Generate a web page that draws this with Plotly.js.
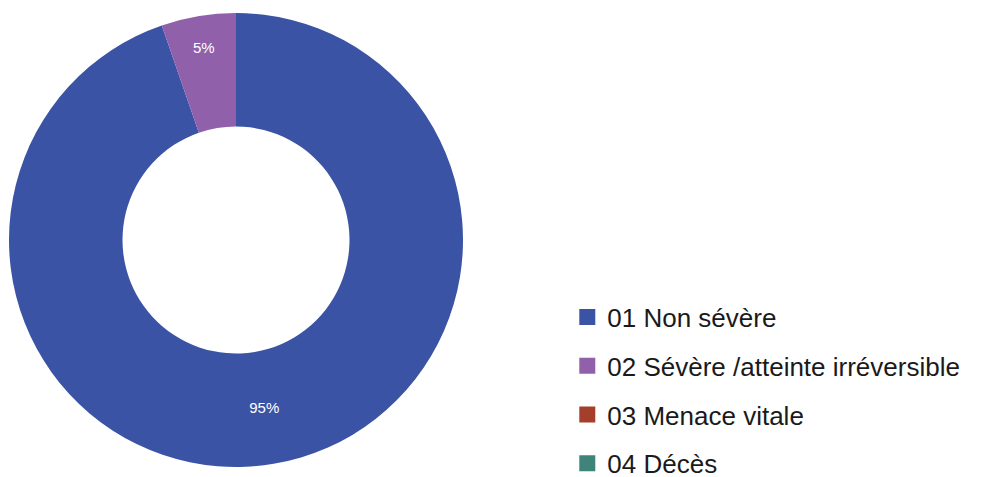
<!DOCTYPE html>
<html><head><meta charset="utf-8">
<script src="https://cdn.plot.ly/plotly-3.0.1.min.js"></script>
<style>html,body{margin:0;padding:0;background:#fff}</style>
</head><body>
<div id="chart" style="width:997px;height:477px"></div>
<script>
const categories = ["01 Non sévère", "02 Sévère /atteinte irréversible", "03 Menace vitale", "04 Décès"];
const shares = [94.7, 5.3, 0, 0];
const colors = ["#3A53A4", "#9160AA", "#A33F2B", "#3F8478"];

const traces = [{
  type: "pie",
  labels: categories,
  values: shares,
  hole: 0.5,
  sort: false,
  direction: "clockwise",
  rotation: 0,
  marker: {colors: colors, line: {width: 0}},
  texttemplate: "%{percent:.0%}",
  textposition: "inside",
  insidetextorientation: "horizontal",
  textfont: {family: "Liberation Sans, Arial, sans-serif", size: 15, color: "#ffffff"},
  domain: {x: [9/997, 463/997], y: [10/477, 464/477]},
  showlegend: false,
  hoverinfo: "label+percent"
}];
categories.forEach((c, i) => {
  traces.push({
    type: "scatter", mode: "markers", x: [null], y: [null],
    name: c, legendgroup: "g" + i,
    marker: {symbol: "square", size: 18, color: colors[i]},
    showlegend: true, hoverinfo: "skip"
  });
});

const layout = {
  width: 997, height: 477,
  margin: {l: 0, r: 0, t: 0, b: 0, autoexpand: false},
  paper_bgcolor: "#ffffff", plot_bgcolor: "#ffffff",
  xaxis: {visible: false}, yaxis: {visible: false},
  showlegend: true,
  legend: {
    x: 0.569, y: 0.3847, xanchor: "left", yanchor: "top",
    font: {family: "Liberation Sans, Arial, sans-serif", size: 26, color: "#1a1a1a"},
    tracegroupgap: 12, itemclick: false, bgcolor: "rgba(0,0,0,0)"
  }
};
Plotly.newPlot("chart", traces, layout, {displayModeBar: false, staticPlot: true});
</script>
</body></html>
